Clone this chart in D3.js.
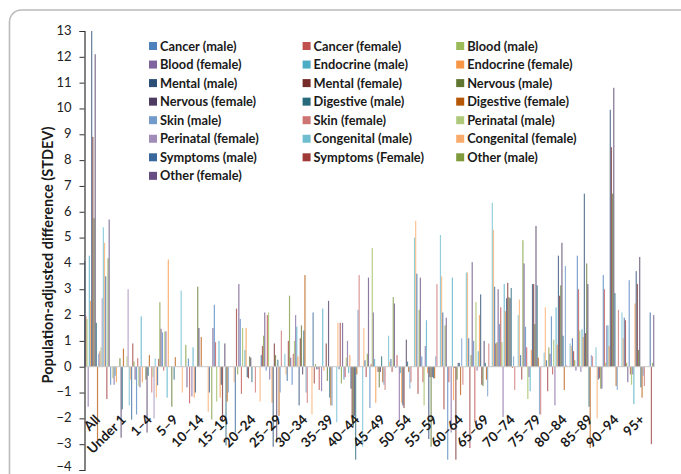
<!DOCTYPE html>
<html>
<head>
<meta charset="utf-8">
<script src="https://cdn.jsdelivr.net/npm/d3@7"></script>
<style>
  html, body { margin: 0; padding: 0; background: #fff; }
  svg { display: block; }
  text { font-family: Lato, "Open Sans", sans-serif; fill: #1a1a1a; }
</style>
</head>
<body>
<svg id="chart" width="681" height="474"></svg>
<script>
// Categories and series
const ageGroups = ["All", "Under 1", "1–4", "5–9", "10–14", "15–19", "20–24", "25–29", "30–34", "35–39", "40–44",
  "45–49", "50–54", "55–59", "60–64", "65–69", "70–74", "75–79", "80–84", "85–89", "90–94", "95+"];
const seriesNames = ["Cancer (male)", "Cancer (female)", "Blood (male)", "Blood (female)", "Endocrine (male)", "Endocrine (female)",
  "Mental (male)", "Mental (female)", "Nervous (male)", "Nervous (female)", "Digestive (male)", "Digestive (female)",
  "Skin (male)", "Skin (female)", "Perinatal (male)", "Perinatal (female)", "Congenital (male)", "Congenital (female)",
  "Symptoms (male)", "Symptoms (Female)", "Other (male)", "Other (female)"];
const seriesColors = ["#4f81bd", "#c0504d", "#9bbb59", "#8064a2", "#4bacc6", "#f79646",
  "#2c4d75", "#772c2a", "#5f7530", "#4d3b62", "#276a7c", "#b65708",
  "#729aca", "#cd7371", "#afc97a", "#a18cb9", "#6fbdd1", "#f9ab6b",
  "#3a679c", "#9e3a38", "#7e9a3c", "#664e83"];
const yTicks = d3.range(-4, 14);

// Values per age group, in the order of seriesNames
const ageAll = [4.1, 1.95, 1.85, -1.55, 4.3, 2.55, 13, 8.9, 5.75, 12.1, 1.7, -2.85, 0.5, 0.6, 0.75, 2.65, 5.4, 4.8, 3.5, -1.25, 4.2, 5.7];
const ageUnder1 = [-0.7, 0, -0.45, -0.7, -0.35, -0.6, 0, 0, 0.33, -2.75, -1.65, 0.7, 0, 0, 0.4, 3.0, -1.5, -0.5, -2.05, 0.9, 0.2, -0.5];
const age1 = [-1.85, 0.33, -0.75, -0.8, 1.95, -0.6, 0, 0, -0.5, -2.55, -0.35, 0.45, 0, -1.0, -0.4, -2.0, 0.32, -1.2, -0.72, 0.3, 2.5, 1.47];
const age5 = [1.33, -0.15, 1.37, 1.37, -1.2, 4.15, 0, 0, -1.55, 0, -0.5, 0.37, 0, 0, 0, 0, 2.95, -1.0, 0, 0, 0.85, -0.8];
const age10 = [0.32, -1.42, 0, -1.15, 0.75, -1.2, -1.0, 0, 3.1, 1.5, 0, 1.15, 0, 0, 0, 0, 0, -1.75, -1.0, 0, -2.05, 1.5];
const age15 = [2.4, 0.95, -1.35, 0, 1.0, -1.2, -0.7, -2.1, 0, 0.9, -3.05, -1.35, -1.0, 0, 0, 0, 0, -0.6, -2.55, 2.25, -0.3, 3.2];
const age20 = [1.85, -1.05, 1.5, 0, 0.65, 1.5, -0.4, -0.45, 0.4, 0.35, -0.6, 0, 0, -1.0, 0, 0, 0, -1.35, 0.45, 0.8, 1.2, 2.1];
const age25 = [-0.15, 2.0, 2.1, -0.5, 0, -1.4, -3.1, 0.9, 0.45, -2.9, 0.27, -1.9, -1.0, 1.4, 0, 0, 0.5, -0.3, -0.55, 1.0, 2.75, 0.35];
const age30 = [-0.7, 0.5, 1.0, 2.0, 1.55, 0.4, -1.5, 1.1, 1.6, -0.3, 1.4, 3.55, -1.0, -1.4, 0, 0, 0, -1.85, 2.1, -0.65, 0.1, -0.1];
const age35 = [-0.1, -0.9, 0, -0.95, 2.25, -0.15, 0, 0.9, -0.55, 2.55, -1.2, -1.5, -1.5, 0, 0, 0, -2.15, 1.7, -0.1, 1.7, -0.65, 1.7];
const age40 = [-0.5, -0.4, 0.35, 1.0, -0.25, 0.45, -0.85, -1.9, -2.3, -1.9, -3.6, -0.3, 2.2, 3.55, 0, 0, -3.1, 1.5, 0.25, -0.4, 0.5, 3.45];
const age45 = [-1.6, 0.1, 4.6, 2.1, 0.3, -1.4, 0, -0.2, -0.8, -0.2, 0.4, -0.6, -0.7, -0.9, 0, 0, 1.2, 0.2, 0.3, -0.2, 2.7, 2.45];
const age50 = [-0.05, 0.45, 0, -2.1, -0.25, -1.4, -1.5, -1.6, 0, 1.05, 0.2, -0.2, -0.85, -0.6, 0, 0, 5.0, 5.65, 3.6, -1.05, 2.2, 3.45];
const age55 = [0.4, -0.6, -1.5, 0.8, 1.8, -0.25, -2.8, -0.4, -3.1, -0.4, -0.45, -0.45, 0.4, 3.2, 0, 0, 5.1, 3.5, 2.1, -1.65, 1.6, 1.9];
const age60 = [-3.6, -0.6, 0, -2.55, 3.45, -1.3, -0.05, -3.6, -0.5, 0.15, 0.15, -1.1, 1.1, -0.7, 0, 0, 3.65, 3.65, 1.1, -3.15, 0.45, 4.05];
const age65 = [1.0, -2.15, 2.5, -0.15, 0.6, 2.0, 2.8, -0.7, -0.75, 1.0, 0.15, -0.5, -1.15, 0.9, 0, 0, 6.35, 5.3, 3.1, 0.9, 0.95, 3.0];
const age70 = [1.65, 2.3, 0.95, -1.95, 3.2, 2.15, 2.65, 3.25, 2.7, 2.65, 3.05, -0.05, 0.4, -0.9, 0, 0, 2.0, 2.6, 0.45, -0.5, 4.9, 4.0];
const age75 = [1.55, 0.75, -1.25, -0.4, -0.95, 0.65, 3.2, 3.2, 1.65, 5.45, 3.15, 0.35, -1.85, -1.85, 0, 0, 0.55, 2.3, 0.25, -0.95, 0.75, 0.5];
const age80 = [1.95, -0.3, 1.05, -1.5, 2.3, 0.85, 4.3, 2.75, 3.15, 4.8, 1.2, -0.9, 3.9, 0.05, 0, 0, 0.9, 0.8, 1.1, 0.6, 0.25, -0.15];
const age85 = [4.3, 3.0, 1.4, -0.2, 1.45, 1.15, 6.7, 1.3, 4.0, 3.2, -1.55, -3.15, 0.45, 0.4, 0, 0, 0.75, -2.0, -0.5, -0.45, -0.85, -0.85];
const age90 = [3.55, 3.0, 0.15, 1.6, 1.6, 0.8, 9.95, 8.5, 6.7, 10.8, 2.85, -0.75, -0.9, 2.2, 0, 0, 2.1, 1.1, 1.9, 1.8, 0.15, -0.6];
const age95 = [3.35, -0.3, -0.7, -0.3, -1.45, 2.45, 3.7, 3.2, 0.65, 4.25, -0.8, -1.2, -0.35, -0.75, 0, 0, 0, 0, 2.1, -3.0, 0.15, 2.0];
const valuesByAge = [ageAll, ageUnder1, age1, age5, age10, age15, age20, age25, age30, age35, age40,
  age45, age50, age55, age60, age65, age70, age75, age80, age85, age90, age95];

const svg = d3.select("#chart");

// Card border round the figure
svg.append("path")
  .attr("d", "M9.5,474V22a12,12 0 0 1 12,-12H681")
  .attr("fill", "none")
  .attr("stroke", "#bbbbbb")
  .attr("stroke-width", 1.6);

// Scales
const x0 = d3.scaleBand().domain(ageGroups).range([84.1, 654.3]).paddingInner(0.01);
const x1 = d3.scaleBand().domain(seriesNames).range([0, x0.bandwidth()]);
const y = d3.scaleLinear().domain([-4, 13]).range([470, 31]);

// Bars
svg.append("g").selectAll("g")
  .data(ageGroups)
  .join("g")
    .attr("transform", d => `translate(${x0(d)},0)`)
  .selectAll("rect")
  .data((d, i) => valuesByAge[i].map((v, s) => ({ v, s })))
  .join("rect")
    .attr("x", d => x1(seriesNames[d.s]))
    .attr("y", d => y(Math.max(0, d.v)))
    .attr("width", x1.bandwidth())
    .attr("height", d => Math.abs(y(d.v) - y(0)))
    .attr("fill", d => seriesColors[d.s])
    .attr("fill-opacity", 0.75);

// Zero line
svg.append("line")
  .attr("x1", x0.range()[0]).attr("x2", x0.range()[1])
  .attr("y1", y(0)).attr("y2", y(0))
  .attr("stroke", "#c8c8c8").attr("stroke-width", 1);

// Y axis
const yAxis = svg.append("g")
  .attr("transform", "translate(84.5,0)")
  .call(d3.axisLeft(y).tickValues(yTicks).tickFormat(d3.format("d")).tickSize(5).tickPadding(8));
yAxis.selectAll("path, line").attr("stroke", "#333");
yAxis.selectAll("text")
  .attr("dy", d => d === -4 ? "0.02em" : "0.26em") // bottom label would otherwise run off the page
  .style("font-size", "13px").style("fill", "#222");
yAxis.select(".domain").attr("stroke-width", 1.2);

// Category labels, slanted
svg.append("g").selectAll("text")
  .data(ageGroups)
  .join("text")
    .attr("transform", d => `translate(${x0(d) + x0.bandwidth() / 2 + 4},420.5) rotate(-45)`)
    .attr("text-anchor", "end")
    .style("font-size", "13.5px")
    .style("font-weight", 700)
    .text(d => d);

// Y title
svg.append("text")
  .attr("transform", "translate(52.5,255) rotate(-90)")
  .attr("text-anchor", "middle")
  .style("font-size", "14.5px")
  .style("font-weight", 700)
  .text("Population-adjusted difference (STDEV)");

// Legend, three columns reading across
const legend = svg.append("g").selectAll("g")
  .data(seriesNames)
  .join("g")
    .attr("transform", (d, i) => `translate(${149 + (i % 3) * 153.6},${46 + Math.floor(i / 3) * 18.55})`);
legend.append("rect")
  .attr("y", -4).attr("width", 8).attr("height", 8)
  .attr("fill", (d, i) => seriesColors[i]);
legend.append("text")
  .attr("x", 11).attr("y", 4.5)
  .style("font-size", "12.8px")
  .style("font-weight", 700)
  .text(d => d);
</script>
</body>
</html>
